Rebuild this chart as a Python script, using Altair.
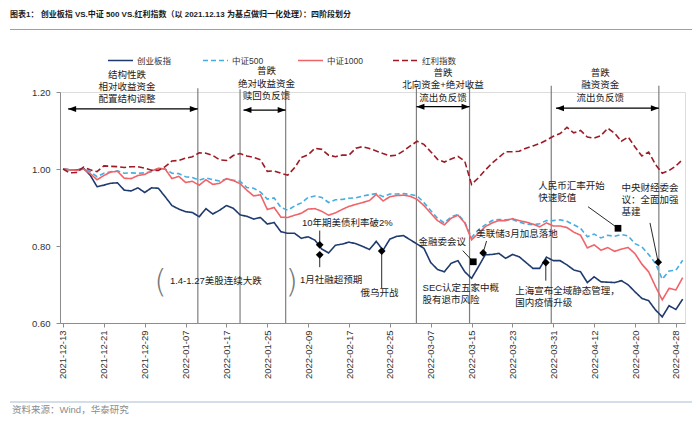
import altair as alt
import pandas as pd

FONT = "Liberation Sans, Noto Sans CJK SC"

dates = [
    "2021-12-13", "2021-12-14", "2021-12-15", "2021-12-16", "2021-12-17", "2021-12-20", "2021-12-21",
    "2021-12-22", "2021-12-23", "2021-12-24", "2021-12-27", "2021-12-28", "2021-12-29", "2021-12-30",
    "2021-12-31", "2022-01-04", "2022-01-05", "2022-01-06", "2022-01-07", "2022-01-10", "2022-01-11",
    "2022-01-12", "2022-01-13", "2022-01-14", "2022-01-17", "2022-01-18", "2022-01-19", "2022-01-20",
    "2022-01-21", "2022-01-24", "2022-01-25", "2022-01-26", "2022-01-27", "2022-01-28", "2022-02-07",
    "2022-02-08", "2022-02-09", "2022-02-10", "2022-02-11", "2022-02-14", "2022-02-15", "2022-02-16",
    "2022-02-17", "2022-02-18", "2022-02-21", "2022-02-22", "2022-02-23", "2022-02-24", "2022-02-25",
    "2022-02-28", "2022-03-01", "2022-03-02", "2022-03-03", "2022-03-04", "2022-03-07", "2022-03-08",
    "2022-03-09", "2022-03-10", "2022-03-11", "2022-03-14", "2022-03-15", "2022-03-16", "2022-03-17",
    "2022-03-18", "2022-03-21", "2022-03-22", "2022-03-23", "2022-03-24", "2022-03-25", "2022-03-28",
    "2022-03-29", "2022-03-30", "2022-03-31", "2022-04-01", "2022-04-06", "2022-04-07", "2022-04-08",
    "2022-04-11", "2022-04-12", "2022-04-13", "2022-04-14", "2022-04-15", "2022-04-18", "2022-04-19",
    "2022-04-20", "2022-04-21", "2022-04-22", "2022-04-25", "2022-04-26", "2022-04-27", "2022-04-28",
    "2022-04-29",
]

cyb = [
    1.000, 0.998, 0.997, 1.002, 0.984, 0.954, 0.958, 0.963, 0.964, 0.945, 0.943, 0.951, 0.939, 0.951,
    0.950, 0.928, 0.905, 0.896, 0.889, 0.887, 0.876, 0.897, 0.883, 0.893, 0.905, 0.898, 0.881, 0.877,
    0.870, 0.874, 0.857, 0.861, 0.837, 0.833, 0.833, 0.820, 0.824, 0.815, 0.792, 0.782, 0.802, 0.805,
    0.810, 0.806, 0.799, 0.791, 0.812, 0.789, 0.818, 0.825, 0.827, 0.816, 0.805, 0.794, 0.757, 0.739,
    0.733, 0.755, 0.762, 0.733, 0.716, 0.746, 0.777, 0.778, 0.781, 0.768, 0.778, 0.772, 0.757, 0.742,
    0.742, 0.771, 0.762, 0.762, 0.751, 0.738, 0.733, 0.705, 0.720, 0.707, 0.706, 0.705, 0.710, 0.699,
    0.681, 0.664, 0.658, 0.634, 0.616, 0.645, 0.635, 0.662,
]

zz500 = [
    1.000, 0.998, 0.996, 1.001, 0.993, 0.980, 0.989, 0.993, 0.995, 0.989, 0.990, 0.989, 0.990, 0.993,
    1.001, 1.000, 0.989, 0.988, 0.980, 0.978, 0.971, 0.977, 0.972, 0.969, 0.974, 0.971, 0.968, 0.952,
    0.950, 0.940, 0.922, 0.925, 0.900, 0.893, 0.904, 0.912, 0.926, 0.930, 0.926, 0.913, 0.920, 0.921,
    0.924, 0.925, 0.930, 0.933, 0.936, 0.928, 0.935, 0.935, 0.936, 0.934, 0.930, 0.913, 0.892, 0.872,
    0.860, 0.876, 0.882, 0.862, 0.822, 0.842, 0.855, 0.866, 0.869, 0.868, 0.869, 0.862, 0.857, 0.855,
    0.858, 0.866, 0.866, 0.868, 0.864, 0.855, 0.846, 0.824, 0.831, 0.821, 0.828, 0.825, 0.830, 0.826,
    0.806, 0.798, 0.778, 0.755, 0.714, 0.735, 0.737, 0.763,
]

zz1000 = [
    1.000, 0.998, 0.996, 1.000, 0.988, 0.972, 0.983, 0.992, 0.994, 0.976, 0.975, 0.983, 0.986, 0.995,
    1.002, 1.000, 0.975, 0.981, 0.965, 0.968, 0.958, 0.972, 0.960, 0.963, 0.975, 0.970, 0.962, 0.945,
    0.930, 0.933, 0.895, 0.900, 0.875, 0.874, 0.880, 0.885, 0.896, 0.897, 0.890, 0.880, 0.886, 0.895,
    0.903, 0.908, 0.913, 0.918, 0.934, 0.917, 0.928, 0.931, 0.932, 0.929, 0.921, 0.905, 0.885, 0.866,
    0.855, 0.872, 0.880, 0.860, 0.816, 0.833, 0.850, 0.860, 0.866, 0.866, 0.871, 0.866, 0.862, 0.857,
    0.850, 0.860, 0.852, 0.852, 0.848, 0.836, 0.828, 0.795, 0.803, 0.789, 0.796, 0.786, 0.792, 0.796,
    0.780, 0.753, 0.733, 0.695, 0.660, 0.690, 0.686, 0.718,
]

hongli = [
    1.000, 0.990, 0.991, 1.005, 0.998, 0.993, 1.008, 1.007, 1.006, 1.004, 1.006, 1.006, 1.002, 0.997,
    0.996, 1.006, 1.021, 1.022, 1.028, 1.032, 1.042, 1.041, 1.035, 1.024, 1.022, 1.035, 1.040, 1.034,
    1.030, 1.024, 0.994, 0.995, 0.989, 0.984, 1.003, 1.030, 1.037, 1.054, 1.051, 1.036, 1.032, 1.036,
    1.036, 1.054, 1.058, 1.053, 1.047, 1.040, 1.034, 1.036, 1.047, 1.060, 1.072, 1.064, 1.045, 1.025,
    1.018, 1.026, 1.033, 1.020, 0.960, 0.977, 0.997, 1.015, 1.030, 1.045, 1.045, 1.046, 1.054, 1.060,
    1.066, 1.075, 1.085, 1.092, 1.108, 1.094, 1.100, 1.083, 1.080, 1.087, 1.106, 1.093, 1.072, 1.083,
    1.057, 1.034, 1.044, 1.012, 0.989, 0.996, 1.008, 1.025,
]

series_names = ["创业板指", "中证500", "中证1000", "红利指数"]
series_colors = ["#1f3a6e", "#45aee0", "#f06469", "#9e1b26"]
series_dash = [[1, 0], [5, 3], [1, 0], [6, 3]]
series_width = [1.6, 1.6, 2.6, 2.6]

y_ticks = [0.6, 0.7, 0.8, 0.9, 1.0, 1.1, 1.2]

# stage separators / arrows / stage labels (positions in trading-day index and value units)
sep_pos = [19.8, 26.0, 32.7, 51.9, 59.7, 71.7, 87.5]
sep_top = [1.210, 1.207, 1.207, 1.216, 1.216, 1.216, 1.216]
arrow_from = [0.75, 26.5, 51.9, 72.4]
arrow_to = [19.8, 32.7, 59.7, 87.5]
arrow_y = [1.156, 1.153, 1.162, 1.158]
stage_text = ["结构性跌", "相对收益资金", "配置结构调整",
              "普跌", "绝对收益资金", "赎回负反馈",
              "普跌", "北向资金+绝对收益", "流出负反馈",
              "普跌", "融资资金", "流出负反馈"]
stage_x = [9.4] * 3 + [29.9] * 3 + [55.8] * 3 + [78.9] * 3
stage_y = [1.244, 1.212, 1.182, 1.2545, 1.2216, 1.1904,
           1.2486, 1.2174, 1.1852, 1.2486, 1.2174, 1.1852]

note_text = ["10年期美债利率破2%", "1月社融超预期", "1.4-1.27美股连续大跌", "俄乌开战", "金融委会议",
             "美联储3月加息落地", "SEC认定五家中概", "股有退市风险", "上海宣布全域静态管理，", "国内疫情升级",
             "人民币汇率开始", "快速贬值", "中央财经委会", "议：全面加强", "基建"]
note_x = [35.1, 34.8, 15.7, 43.7, 52.2, 60.7, 52.8, 52.8, 66.4, 66.4, 69.8, 69.8, 82.0, 82.0, 82.0]
note_y = [0.860, 0.712, 0.710, 0.677, 0.811, 0.831, 0.690, 0.660, 0.683, 0.651,
          0.956, 0.924, 0.951, 0.919, 0.889]

diamond_x = [37.7, 37.7, 46.8, 61.7, 70.9, 87.4]
diamond_y = [0.803, 0.777, 0.787, 0.782, 0.757, 0.758]
square_x = [60.25, 81.5]
square_y = [0.759, 0.846]

lead_x1 = [37.7, 37.7, 46.8, 58.7, 62.2, 70.9, 77.1, 86.2]
lead_x2 = [37.7, 37.7, 46.8, 60.25, 61.7, 70.9, 81.5, 87.4]
lead_y1 = [0.840, 0.777, 0.787, 0.788, 0.813, 0.757, 0.902, 0.860]
lead_y2 = [0.803, 0.745, 0.691, 0.759, 0.783, 0.710, 0.846, 0.758]

bracket_text = ["(", ")"]
bracket_x = [14.3, 33.6]
bracket_y = [0.707, 0.707]

title_text = "图表1：  创业板指 VS.中证 500 VS.红利指数（以 2021.12.13 为基点做归一化处理）：四阶段划分"
source_text = "资料来源：Wind，华泰研究"

# ---------------- data tables ----------------
rows = []
for name, vals in zip(series_names, [cyb, zz500, zz1000, hongli]):
    for i, (d, v) in enumerate(zip(dates, vals)):
        rows.append({"i": i, "date": d, "series": name, "value": v})
df = pd.DataFrame(rows)

sep_df = pd.DataFrame({"x": sep_pos, "y": [0.6] * len(sep_pos), "y2": sep_top})
arrow_df = pd.DataFrame({"x": arrow_from, "x2": arrow_to, "y": arrow_y})
stage_df = pd.DataFrame({"t": stage_text, "x": stage_x, "y": stage_y})
note_df = pd.DataFrame({"t": note_text, "x": note_x, "y": note_y})
dia_df = pd.DataFrame({"x": diamond_x, "y": diamond_y})
sq_df = pd.DataFrame({"x": square_x, "y": square_y})
lead_df = pd.DataFrame({"x": lead_x1, "x2": lead_x2, "y": lead_y1, "y2": lead_y2})
br_df = pd.DataFrame({"t": bracket_text, "x": bracket_x, "y": bracket_y})
title_df = pd.DataFrame({"t": [title_text]})
src_df = pd.DataFrame({"t": [source_text]})

label_expr = "[" + ",".join("'" + d + "'" for d in dates) + "][datum.value]"

xs = alt.Scale(domain=[-0.44, 91.34], nice=False, zero=False)
ys = alt.Scale(domain=[0.6, 1.2], nice=False, zero=False)

x_axis = alt.Axis(values=list(range(0, len(dates), 3)), labelExpr=label_expr, labelAngle=270,
                  labelFont=FONT, labelFontSize=9.5, labelColor="#333333", labelPadding=3,
                  tickSize=4, tickColor="#8c8c8c", domainColor="#8c8c8c", grid=False, title=None,
                  labelOverlap=False)
y_axis = alt.Axis(values=y_ticks, format=".2f", labelFont=FONT, labelFontSize=9.5, labelColor="#333333",
                  labelPadding=6, tickSize=4, tickColor="#8c8c8c", domainColor="#8c8c8c", grid=False,
                  title=None)

legend = alt.Legend(orient="none", legendX=47, legendY=-45, direction="horizontal", title=None,
                    symbolType="stroke", symbolSize=625, symbolStrokeWidth=2.5, labelFont=FONT,
                    labelFontSize=8.5, labelColor="#333333", labelOffset=3, columnPadding=26,
                    gridAlign="all")

lines = alt.Chart(df).mark_line().encode(
    x=alt.X("i:Q", scale=xs, axis=x_axis),
    y=alt.Y("value:Q", scale=ys, axis=y_axis),
    color=alt.Color("series:N", scale=alt.Scale(domain=series_names, range=series_colors), legend=legend),
    strokeDash=alt.StrokeDash("series:N", scale=alt.Scale(domain=series_names, range=series_dash),
                              legend=legend),
    strokeWidth=alt.StrokeWidth("series:N", scale=alt.Scale(domain=series_names, range=series_width),
                                legend=None),
)

seps = alt.Chart(sep_df).mark_rule(color="#7f7f7f", strokeWidth=1.2).encode(
    x=alt.X("x:Q", scale=xs), y=alt.Y("y:Q", scale=ys), y2="y2:Q")

arrows = alt.Chart(arrow_df).mark_rule(color="#000000", strokeWidth=1.2).encode(
    x=alt.X("x:Q", scale=xs), x2="x2:Q", y=alt.Y("y:Q", scale=ys))
head_l = alt.Chart(arrow_df).mark_point(shape="M0,0L2,-0.75L2,0.75Z", filled=True, size=64,
                                        color="#000000", opacity=1).encode(
    x=alt.X("x:Q", scale=xs), y=alt.Y("y:Q", scale=ys))
head_r = alt.Chart(arrow_df).mark_point(shape="M0,0L-2,-0.75L-2,0.75Z", filled=True, size=64,
                                        color="#000000", opacity=1).encode(
    x=alt.X("x2:Q", scale=xs), y=alt.Y("y:Q", scale=ys))

stages = alt.Chart(stage_df).mark_text(align="center", baseline="middle", font=FONT, fontSize=9.5,
                                       color="#222222").encode(
    x=alt.X("x:Q", scale=xs), y=alt.Y("y:Q", scale=ys), text="t:N")

leads = alt.Chart(lead_df).mark_rule(color="#111111", strokeWidth=0.9).encode(
    x=alt.X("x:Q", scale=xs), x2="x2:Q", y=alt.Y("y:Q", scale=ys), y2="y2:Q")

notes = alt.Chart(note_df).mark_text(align="left", baseline="middle", font=FONT, fontSize=9.5,
                                     color="#222222").encode(
    x=alt.X("x:Q", scale=xs), y=alt.Y("y:Q", scale=ys), text="t:N")

dias = alt.Chart(dia_df).mark_point(shape="diamond", filled=True, size=60, color="#000000",
                                    opacity=1).encode(
    x=alt.X("x:Q", scale=xs), y=alt.Y("y:Q", scale=ys))
sqs = alt.Chart(sq_df).mark_point(shape="square", filled=True, size=45, color="#000000",
                                  opacity=1).encode(
    x=alt.X("x:Q", scale=xs), y=alt.Y("y:Q", scale=ys))

brackets = alt.Chart(br_df).mark_text(align="center", baseline="middle", font="DejaVu Sans",
                                      fontWeight=200, fontSize=32, color="#777777").encode(
    x=alt.X("x:Q", scale=xs), y=alt.Y("y:Q", scale=ys), text="t:N")

title = alt.Chart(title_df).mark_text(align="left", baseline="middle", font=FONT, fontSize=8,
                                      fontWeight="bold", color="#1a1a1a").encode(
    x=alt.value(-50), y=alt.value(-77), text="t:N")
title_rule = alt.Chart(title_df).mark_rule(color="#8ea2b8", strokeWidth=1).encode(
    x=alt.value(-50), x2=alt.value(632), y=alt.value(-62.5))
src_rule = alt.Chart(src_df).mark_rule(color="#a9bdd2", strokeWidth=1).encode(
    x=alt.value(-50), x2=alt.value(632), y=alt.value(310))
src = alt.Chart(src_df).mark_text(align="left", baseline="middle", font=FONT, fontSize=9.5,
                                  color="#8c8c8c").encode(
    x=alt.value(-48), y=alt.value(318), text="t:N")

chart = alt.layer(
    seps, arrows, head_l, head_r, lines, leads, dias, sqs, stages, notes, brackets,
    title, title_rule, src_rule, src,
).properties(
    width=625, height=231,
    padding={"left": 52, "top": 84, "right": 7, "bottom": 95},
    autosize=alt.AutoSizeParams(type="none"),
).configure_view(strokeWidth=0).configure(background="#ffffff")

chart.save("out.html", embed_options={"renderer": "svg", "actions": False})
